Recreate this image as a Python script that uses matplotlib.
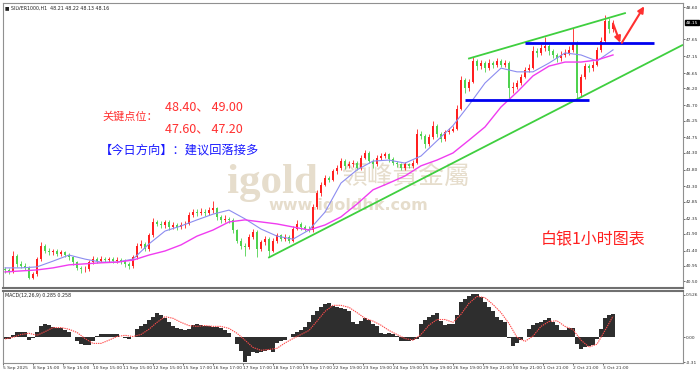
import numpy as np
import matplotlib
matplotlib.use('Agg')
import matplotlib.pyplot as plt
import matplotlib.transforms as mtransforms

plt.rcParams['font.family'] = ['Noto Sans CJK SC', 'DejaVu Sans']

# SILVER1000 H1, one candle here ~ 3 hourly bars
closes = [
    40.82, 40.78, 41.25, 41.00, 40.95, 40.90, 40.60, 40.70, 41.15, 41.55,
    41.40, 41.35, 41.38, 41.30, 41.35, 41.28, 41.20, 41.05, 40.90, 40.85,
    40.85, 41.05, 41.15, 41.10, 41.15, 41.12, 41.15, 41.10, 41.12, 41.08,
    41.00, 40.95, 41.20, 41.55, 41.60, 41.45, 41.85, 42.25, 42.20, 42.15,
    42.25, 42.10, 42.15, 42.10, 42.15, 42.20, 42.45, 42.55, 42.50, 42.55,
    42.50, 42.60, 42.65, 42.40, 42.30, 42.35, 42.30, 42.00, 41.70, 41.55,
    41.50, 41.80, 41.95, 41.45, 41.65, 41.75, 41.40, 41.70, 41.85, 41.75,
    41.80, 41.70, 42.05, 42.20, 42.10, 42.05, 42.00, 42.70, 43.10, 43.35,
    43.55, 43.50, 43.75, 43.85, 44.05, 43.90, 43.95, 44.00, 43.85, 44.15,
    44.30, 44.05, 43.95, 44.15, 44.20, 44.25, 44.10, 44.00, 43.95, 43.85,
    43.95, 43.90, 44.00, 44.85, 44.80, 44.55, 44.75, 45.10, 44.85, 44.70,
    44.90, 44.95, 45.00, 45.60, 46.45, 46.20, 46.40, 47.00, 46.85, 46.95,
    46.80, 46.95, 46.90, 47.00, 46.90, 46.95, 46.20, 46.25, 46.35, 46.55,
    46.75, 46.80, 47.30, 47.25, 47.40, 47.45, 47.30, 47.20, 47.10, 47.20,
    47.25, 47.35, 47.55, 46.05, 46.55, 46.85, 46.80, 46.90, 47.35, 47.60,
    48.20, 47.95, 48.15,
]
highs = [
    40.92, 40.88, 41.38, 41.30, 41.08, 41.02, 40.95, 40.78, 41.22, 41.66,
    41.60, 41.48, 41.46, 41.45, 41.42, 41.40, 41.34, 41.25, 41.10, 40.96,
    40.95, 41.12, 41.24, 41.22, 41.24, 41.22, 41.22, 41.20, 41.20, 41.18,
    41.14, 41.06, 41.28, 41.62, 41.72, 41.66, 41.92, 42.36, 42.32, 42.28,
    42.32, 42.30, 42.24, 42.22, 42.24, 42.28, 42.54, 42.64, 42.62, 42.66,
    42.62, 42.70, 42.88, 42.70, 42.46, 42.44, 42.40, 42.36, 42.05, 41.78,
    41.62, 41.88, 42.05, 42.00, 41.72, 41.84, 41.80, 41.78, 41.92, 41.90,
    41.88, 41.86, 42.12, 42.30, 42.26, 42.16, 42.12, 42.78, 43.18, 43.42,
    43.64, 43.62, 43.82, 43.94, 44.14, 44.10, 44.04, 44.08, 44.06, 44.22,
    44.38, 44.34, 44.10, 44.22, 44.28, 44.32, 44.30, 44.16, 44.06, 44.00,
    44.02, 44.00, 44.08, 45.00, 44.95, 44.86, 44.84, 45.25, 45.15, 44.92,
    44.98, 45.04, 45.08, 45.70, 46.56, 46.50, 46.48, 47.12, 47.08, 47.05,
    47.02, 47.06, 47.02, 47.10, 47.06, 47.04, 47.00, 46.38, 46.44, 46.64,
    46.84, 46.92, 47.45, 47.40, 47.52, 47.72, 47.52, 47.38, 47.26, 47.30,
    47.36, 47.46, 47.98, 47.60, 46.64, 46.94, 46.92, 47.00, 47.44, 47.72,
    48.36, 48.28, 48.22,
]
lows = [
    40.74, 40.70, 40.75, 40.92, 40.88, 40.82, 40.55, 40.56, 40.66, 41.10,
    41.32, 41.28, 41.28, 41.24, 41.25, 41.20, 41.12, 40.98, 40.82, 40.75,
    40.78, 40.80, 41.00, 41.02, 41.05, 41.05, 41.06, 41.02, 41.04, 41.00,
    40.92, 40.85, 40.90, 41.15, 41.48, 41.38, 41.40, 41.80, 42.12, 42.06,
    42.08, 42.02, 42.04, 42.02, 42.04, 42.08, 42.15, 42.40, 42.42, 42.44,
    42.42, 42.44, 42.52, 42.32, 42.22, 42.24, 42.22, 41.92, 41.62, 41.45,
    41.25, 41.45, 41.75, 41.22, 41.38, 41.58, 41.20, 41.35, 41.64, 41.68,
    41.70, 41.62, 41.66, 42.00, 42.02, 41.98, 41.94, 41.96, 42.64, 43.02,
    43.30, 43.42, 43.45, 43.68, 43.80, 43.82, 43.84, 43.88, 43.78, 43.80,
    44.10, 43.98, 43.86, 43.90, 44.08, 44.14, 44.02, 43.92, 43.88, 43.78,
    43.80, 43.84, 43.85, 43.96, 44.70, 44.45, 44.50, 44.70, 44.76, 44.60,
    44.64, 44.86, 44.90, 44.96, 45.55, 46.05, 46.12, 46.35, 46.74, 46.78,
    46.70, 46.74, 46.80, 46.84, 46.82, 46.84, 45.88, 46.05, 46.18, 46.30,
    46.50, 46.68, 46.76, 47.12, 47.18, 47.32, 47.20, 47.10, 46.98, 47.02,
    47.12, 47.18, 47.28, 45.88, 45.98, 46.48, 46.68, 46.72, 46.85, 47.28,
    47.55, 47.85, 47.88,
]
first_open = 40.85
opens = [first_open] + closes[:-1]

# moving averages, read every 4th candle
ma_blue = [
    40.89, 40.89, 40.92, 41.09, 41.27, 41.15, 41.06, 41.06, 41.15, 41.60,
    41.98, 42.13, 42.31, 42.48, 42.60, 42.34, 42.04, 41.83, 41.74, 42.01,
    42.54, 43.40, 43.79, 44.05, 44.08, 43.99, 44.20, 44.65, 45.10, 45.71,
    46.36, 46.80, 46.69, 46.69, 46.95, 47.25, 47.19, 47.01, 47.34,
]
ma_magenta = [
    40.77, 40.80, 40.83, 40.89, 40.98, 41.01, 41.04, 41.06, 41.12, 41.27,
    41.39, 41.57, 41.83, 42.01, 42.25, 42.31, 42.25, 42.19, 42.10, 42.01,
    42.16, 42.40, 42.78, 43.20, 43.40, 43.61, 43.91, 44.08, 44.29, 44.67,
    45.06, 45.65, 46.09, 46.57, 46.86, 46.98, 46.98, 47.04, 47.19,
]

# MACD(12,26,9): histogram per candle, signal every 2nd candle
macd_hist = [
    -0.02, -0.02, 0.03, 0.07, 0.07, 0.06, -0.03, -0.01, 0.07, 0.135,
    0.17, 0.15, 0.13, 0.12, 0.11, 0.085, 0.07, 0.01, -0.05, -0.085,
    -0.10, -0.095, -0.04, 0.015, 0.035, 0.04, 0.04, 0.04, 0.035, 0.0,
    -0.01, -0.015, 0.01, 0.10, 0.135, 0.17, 0.21, 0.255, 0.295, 0.27,
    0.235, 0.185, 0.145, 0.12, 0.10, 0.095, 0.10, 0.15, 0.17, 0.15,
    0.145, 0.135, 0.13, 0.125, 0.12, 0.085, 0.05, 0.0, -0.085, -0.17,
    -0.305, -0.235, -0.185, -0.195, -0.18, -0.17, -0.16, -0.185, -0.07, -0.04,
    -0.035, 0.01, 0.04, 0.06, 0.085, 0.125, 0.185, 0.27, 0.32, 0.37,
    0.415, 0.42, 0.39, 0.37, 0.365, 0.355, 0.32, 0.185, 0.17, 0.20,
    0.235, 0.22, 0.17, 0.135, 0.05, 0.035, 0.05, 0.04, 0.015, -0.04,
    -0.045, -0.04, -0.035, -0.015, 0.17, 0.22, 0.245, 0.27, 0.295, 0.20,
    0.15, 0.16, 0.17, 0.27, 0.44, 0.47, 0.505, 0.53, 0.535, 0.50,
    0.44, 0.37, 0.32, 0.255, 0.21, 0.185, -0.01, -0.11, -0.075, -0.035,
    0.0, 0.10, 0.15, 0.175, 0.195, 0.22, 0.235, 0.195, 0.15, 0.095,
    0.095, 0.11, 0.115, -0.085, -0.15, -0.12, -0.11, -0.095, -0.015, 0.10,
    0.24, 0.27, 0.29,
]
macd_signal = [
    -0.02, 0.0, 0.035, 0.05, 0.025, 0.07, 0.12, 0.12, 0.10, 0.06,
    -0.015, -0.075, -0.075, -0.035, 0.01, 0.025, 0.01, 0.035, 0.10, 0.185,
    0.255, 0.235, 0.185, 0.145, 0.135, 0.145, 0.135, 0.135, 0.11, 0.05,
    -0.035, -0.125, -0.16, -0.15, -0.135, -0.07, -0.015, 0.035, 0.085, 0.20,
    0.32, 0.395, 0.395, 0.37, 0.305, 0.235, 0.20, 0.15, 0.085, 0.035,
    -0.015, -0.035, 0.035, 0.15, 0.22, 0.22, 0.185, 0.285, 0.42, 0.505,
    0.49, 0.405, 0.305, 0.17, 0.0, -0.05, 0.015, 0.135, 0.195, 0.205,
    0.135, 0.095, -0.035, -0.12, -0.085, 0.085, 0.26,
]

price_ticks = [48.60, 47.65, 47.15, 46.65, 46.20, 45.70, 45.25, 44.75, 44.30,
               43.80, 43.30, 42.85, 42.35, 41.90, 41.40, 40.95, 40.50]
macd_ticks = [0.526, 0.0, -0.31]
macd_tick_labels = ['0.526', '0.00', '-0.31']
date_labels = ['5 Sep 2025', '8 Sep 15:00', '9 Sep 15:00', '10 Sep 15:00',
               '11 Sep 15:00', '12 Sep 15:00', '15 Sep 17:00', '16 Sep 17:00',
               '17 Sep 17:00', '18 Sep 17:00', '19 Sep 17:00', '22 Sep 19:00',
               '23 Sep 19:00', '24 Sep 19:00', '25 Sep 19:00', '26 Sep 19:00',
               '29 Sep 21:00', '30 Sep 21:00', '1 Oct 21:00', '2 Oct 21:00',
               '3 Oct 21:00']
last_price = 48.15
resistance = 47.55   # upper blue line
support = 45.87      # lower blue line

n = len(closes)
x = np.arange(n)
o = np.array(opens)
c = np.array(closes)
up = c >= o
RED = '#ff1f1f'
GREEN = '#4fd24f'
SMALL = 3.2

fig = plt.figure(figsize=(7, 3.73), dpi=100)
ax = fig.add_axes([3 / 700, 1 - 288 / 373, 680 / 700, 285 / 373])
ax2 = fig.add_axes([3 / 700, 1 - 363 / 373, 680 / 700, 72 / 373], sharex=ax)

# watermark
wm = '#e6ddcc'
ax.text(0.33, 0.335, 'igold', transform=ax.transAxes, fontsize=31, fontweight='bold',
        family='Liberation Serif', color=wm, va='baseline', ha='left', zorder=0)
ax.text(0.497, 0.39, '領峰貴金屬', transform=ax.transAxes, fontsize=18.5,
        family=['Noto Sans CJK TC'], color=wm, va='center', ha='left', zorder=0)
ax.text(0.39, 0.29, 'www.igoldhk.com', transform=ax.transAxes, fontsize=11.5,
        fontweight='bold', family='DejaVu Sans', color=wm, va='center', ha='left', zorder=0)

# candles
colors = np.where(up, RED, GREEN)
ax.vlines(x, lows, highs, colors=colors, lw=0.6, zorder=3)
ax.bar(x, np.maximum(np.abs(c - o), 0.015), bottom=np.minimum(o, c), width=0.55,
       color=colors, edgecolor='none', zorder=4)

# moving averages
ma_x = np.arange(0, n, 4)
ax.plot(ma_x, ma_blue, color='#8c8cf0', lw=0.8, zorder=5)
ax.plot(ma_x, ma_magenta, color='#f03cf0', lw=1.0, zorder=5)

# trend channel
i0, i1 = 66, 143
slope = (lows[i1] - lows[i0]) / (i1 - i0)
xs = np.array([i0, 169.3])
ax.plot(xs, lows[i0] + slope * (xs - i0), color='#3fcf3f', lw=1.3, zorder=6)
j0, j1 = 117, 142
slope2 = (highs[j1] - highs[j0]) / (j1 - j0)
xs2 = np.array([116, 155])
ax.plot(xs2, highs[j0] + slope2 * (xs2 - j0), color='#3fcf3f', lw=1.3, zorder=6)

# support / resistance
ax.hlines(resistance, 130, 162.3, color='#0000f0', lw=2, zorder=6)
ax.hlines(support, 115, 146, color='#0000f0', lw=2, zorder=6)

# expected path arrows
arr = dict(arrowstyle='-|>', color='#ff3030', lw=1.5, mutation_scale=9, shrinkA=0, shrinkB=0)
ax.annotate('', xy=(153.8, resistance), xytext=(152, 48.12), arrowprops=arr, zorder=7)
ax.annotate('', xy=(159.8, 48.63), xytext=(154.2, resistance), arrowprops=arr, zorder=7)

# comment texts
ax.text(0.147, 0.60, '关键点位：', transform=ax.transAxes, fontsize=8, color='#ff3030',
        va='center', ha='left')
ax.text(0.238, 0.635, '48.40、 49.00', transform=ax.transAxes, fontsize=9, color='#ff3030',
        va='center', ha='left')
ax.text(0.238, 0.558, '47.60、 47.20', transform=ax.transAxes, fontsize=9, color='#ff3030',
        va='center', ha='left')
ax.text(0.143, 0.484, '【今日方向】：建议回落接多', transform=ax.transAxes, fontsize=8.8,
        color='#1a1aff', va='center', ha='left')
ax.text(0.791, 0.168, '白银1小时图表', transform=ax.transAxes, fontsize=11.5,
        color='#ff2020', va='center', ha='left')

# header
ax.text(0.003, 0.992, '■ SILVER1000,H1  48.21 48.22 48.13 48.16', transform=ax.transAxes,
        fontsize=3.4, color='#222222', va='top', ha='left', family='DejaVu Sans')

ax.set_xlim(-0.5, 169.5)
ax.set_ylim(40.295, 48.727)
ax.yaxis.tick_right()
ax.set_yticks(price_ticks)
ax.set_yticklabels(['%.2f' % t for t in price_ticks], family='DejaVu Sans')
ax.tick_params(axis='y', length=1.5, width=0.5, labelsize=SMALL, pad=0.8, colors='#333333')
ax.tick_params(axis='x', bottom=False, labelbottom=False)
trans = mtransforms.blended_transform_factory(ax.transAxes, ax.transData)
ax.text(1.004, last_price, '%.2f' % last_price, transform=trans, fontsize=SMALL, color='white',
        va='center', ha='left', family='DejaVu Sans',
        bbox=dict(boxstyle='square,pad=0.2', fc='black', ec='black'))

# MACD panel
ax2.bar(x, macd_hist, width=0.85, color='#2e2e2e', edgecolor='none', zorder=2)
ax2.plot(np.arange(0, n, 2), macd_signal, color='#ff4a4a', lw=0.8, ls=(0, (1.2, 0.8)), zorder=3)
ax2.text(0.003, 0.97, 'MACD(12,26,9) 0.285 0.258', transform=ax2.transAxes, fontsize=3.4,
         color='#222222', va='top', ha='left', family='DejaVu Sans')
ax2.set_ylim(-0.317, 0.572)
ax2.yaxis.tick_right()
ax2.set_yticks(macd_ticks)
ax2.set_yticklabels(macd_tick_labels, family='DejaVu Sans')
ax2.tick_params(axis='y', length=1.5, width=0.5, labelsize=SMALL, pad=0.8, colors='#333333')
date_pos = -0.5 + 7.5 * np.arange(len(date_labels))
ax2.set_xticks(date_pos)
ax2.set_xticklabels(date_labels, ha='left', family='DejaVu Sans')
ax2.tick_params(axis='x', length=1.5, width=0.5, labelsize=SMALL, pad=0.8, colors='#333333')

for a in (ax, ax2):
    for s in a.spines.values():
        s.set_color('#909090')
        s.set_linewidth(0.8)
ax.spines['bottom'].set_linewidth(1.5)
ax2.spines['top'].set_linewidth(1.5)
ax.spines['bottom'].set_color('#707070')
ax2.spines['top'].set_color('#707070')

fig.savefig('out.png', dpi=100, facecolor='white')
